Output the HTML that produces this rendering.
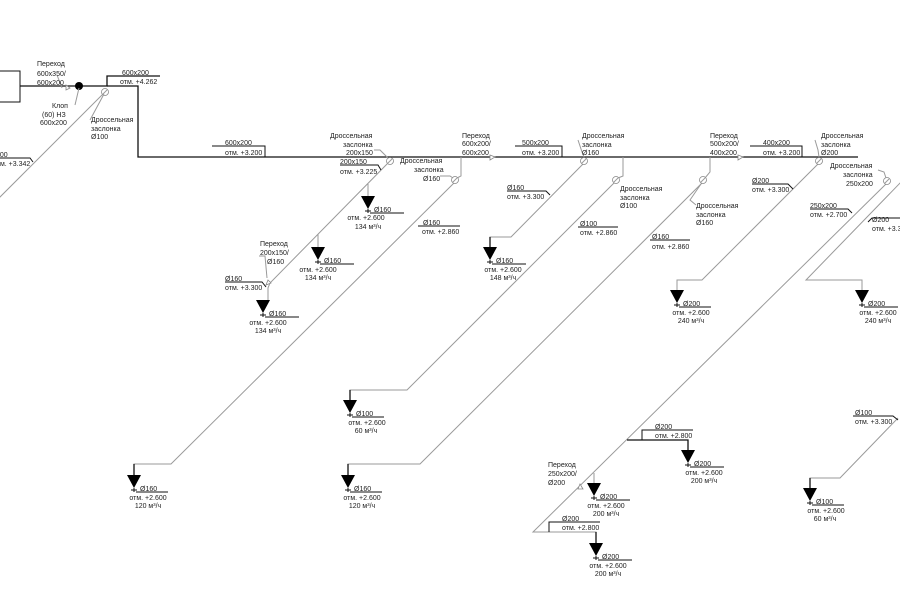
<!DOCTYPE html>
<html><head><meta charset="utf-8"><style>
html,body{margin:0;padding:0;background:#fff;}
svg{display:block;}
text{font-family:"Liberation Sans",sans-serif;font-size:7px;fill:#222;}
.g{stroke:#9a9a9a;stroke-width:1;fill:none;}
.b{stroke:#111;stroke-width:1.3;fill:none;}
.u{stroke:#111;stroke-width:1;fill:none;}
.v{stroke:#888;stroke-width:0.8;fill:#fff;}
</style></head><body>
<svg width="900" height="600" viewBox="0 0 900 600" xmlns="http://www.w3.org/2000/svg">
<defs>
<g id="tri"><polygon points="-7,0 7,0 0,13" fill="#000"/><line x1="0" y1="13" x2="0" y2="17" class="u"/><line x1="-3" y1="15" x2="3" y2="15" class="u"/></g>
</defs>

<!-- top-left unit -->
<rect x="-5" y="71" width="25" height="31" class="u"/>
<polyline points="20,86 107,86 107,76 160,76" class="b"/>
<polyline points="107,86 138,86 138,157 858,157" class="b"/>
<circle cx="79" cy="86" r="4" fill="#000"/>
<polygon points="66,85 70,88 66,90" class="v"/>
<line x1="105" y1="92" x2="-2" y2="199" class="g"/>
<circle cx="105" cy="92" r="3.5" class="v"/><line x1="103" y1="94" x2="107" y2="90" class="g"/>
<polyline points="62,88 57,75" class="g"/>
<polyline points="75,105 79,88" class="g"/>
<polyline points="90,120 104,94" class="g"/>
<text x="37" y="66">Переход</text><text x="37" y="76">600x350/</text><text x="37" y="85">600x200</text>
<text x="52" y="108">Клоп</text><text x="42" y="117">(60) НЗ</text><text x="40" y="125">600x200</text>
<text x="122" y="75">600x200</text><text x="120" y="84">отм. +4.262</text>
<text x="91" y="122">Дроссельная</text><text x="91" y="131">заслонка</text><text x="91" y="139">Ø100</text>
<polyline points="-5,158 30,158 33,162" class="u"/>
<text x="-4" y="157">200</text><text x="-7" y="166">отм. +3.342</text>

<!-- main labels -->
<polyline points="212,146 265,146 265,157" class="u"/>
<text x="225" y="145">600x200</text><text x="225" y="155">отм. +3.200</text>
<polyline points="515,146 562,146 562,157" class="u"/>
<text x="522" y="145">500x200</text><text x="522" y="155">отм. +3.200</text>
<polyline points="750,146 802,146 802,157" class="u"/>
<text x="763" y="145">400x200</text><text x="763" y="155">отм. +3.200</text>
<polygon points="490,155 495,157 490,160" class="v"/>
<text x="462" y="138">Переход</text><text x="462" y="146">600x200/</text><text x="462" y="155">600x200</text>
<polygon points="738,155 743,157 738,160" class="v"/>
<text x="710" y="138">Переход</text><text x="710" y="146">500x200/</text><text x="710" y="155">400x200</text>

<!-- branch 200x150 -->
<polyline points="390,161 270,283 268,288 268,300" class="g"/>
<line x1="368" y1="184" x2="368" y2="196" class="g"/>
<line x1="318" y1="234" x2="318" y2="247" class="g"/>
<circle cx="390" cy="161" r="3.5" class="v"/><line x1="388" y1="163" x2="392" y2="159" class="g"/>
<polyline points="374,150 380,150 388,158" class="g"/>
<text x="330" y="138">Дроссельная</text><text x="343" y="147">заслонка</text><text x="346" y="155">200x150</text>
<polyline points="340,165 378,165 381,170" class="u"/>
<text x="340" y="164">200x150</text><text x="340" y="174">отм. +3.225</text>
<polygon points="268,280 271,283 266,285" class="v"/>
<polyline points="259,256 265,256 267,278" class="g"/>
<text x="260" y="246">Переход</text><text x="260" y="255">200x150/</text><text x="267" y="264">Ø160</text>
<polyline points="225,282 262,282 266,287" class="u"/>
<text x="225" y="281">Ø160</text><text x="225" y="290">отм. +3.300</text>

<!-- branch Ø160 valve at 455 -->
<polyline points="461,157 461,176 457,178" class="g"/>
<polyline points="455,182 171,464 134,464 134,475" class="g"/>
<line x1="134" y1="464" x2="134" y2="475" class="b"/>
<circle cx="455" cy="180" r="3.5" class="v"/><line x1="453" y1="182" x2="457" y2="178" class="g"/>
<polyline points="440,176 450,176 453,178" class="g"/>
<text x="400" y="163">Дроссельная</text><text x="414" y="172">заслонка</text><text x="423" y="181">Ø160</text>
<polyline points="418,226 460,226" class="u"/>
<text x="423" y="225">Ø160</text><text x="422" y="234">отм. +2.860</text>

<!-- branch valve 584 -->
<polyline points="584,163 511,237 490,237 490,247" class="g"/>
<line x1="490" y1="237" x2="490" y2="247" class="b"/>
<circle cx="584" cy="161" r="3.5" class="v"/><line x1="582" y1="163" x2="586" y2="159" class="g"/>
<polyline points="578,140 582,152 584,157" class="g"/>
<text x="582" y="138">Дроссельная</text><text x="582" y="147">заслонка</text><text x="582" y="155">Ø160</text>
<polyline points="507,191 546,191 550,195" class="u"/>
<text x="507" y="190">Ø160</text><text x="507" y="199">отм. +3.300</text>

<!-- branch valve 616 -->
<polyline points="623,157 623,176 618,178" class="g"/>
<polyline points="615,182 407,390 350,390 350,400" class="g"/>
<line x1="350" y1="390" x2="350" y2="400" class="b"/>
<circle cx="616" cy="180" r="3.5" class="v"/><line x1="614" y1="182" x2="618" y2="178" class="g"/>
<text x="620" y="191">Дроссельная</text><text x="620" y="200">заслонка</text><text x="620" y="208">Ø100</text>
<polyline points="578,227 618,227" class="u"/>
<text x="580" y="226">Ø100</text><text x="580" y="235">отм. +2.860</text>

<!-- branch valve 703 -->
<polyline points="710,157 710,172 705,178" class="g"/>
<polyline points="703,182 420,464 348,464 348,475" class="g"/>
<line x1="348" y1="464" x2="348" y2="475" class="b"/>
<circle cx="703" cy="180" r="3.5" class="v"/><line x1="701" y1="182" x2="705" y2="178" class="g"/>
<polyline points="696,205 690,200 701,184" class="g"/>
<text x="696" y="208">Дроссельная</text><text x="696" y="217">заслонка</text><text x="696" y="225">Ø160</text>
<polyline points="650,240 690,240" class="u"/>
<text x="652" y="239">Ø160</text><text x="652" y="249">отм. +2.860</text>

<!-- branch valve 820 -->
<polyline points="819,163 702,280 677,280 677,290" class="g"/>
<circle cx="819" cy="161" r="3.5" class="v"/><line x1="817" y1="163" x2="821" y2="159" class="g"/>
<polyline points="815,140 818,150 819,157" class="g"/>
<text x="821" y="138">Дроссельная</text><text x="821" y="147">заслонка</text><text x="821" y="155">Ø200</text>
<polyline points="752,184 788,184 793,189" class="u"/>
<text x="752" y="183">Ø200</text><text x="752" y="192">отм. +3.300</text>

<!-- long branch valve 887 -->
<polyline points="887,183 533,532 596,532 596,543" class="g"/>
<line x1="596" y1="532" x2="596" y2="543" class="b"/>
<circle cx="887" cy="181" r="3.5" class="v"/><line x1="885" y1="183" x2="889" y2="179" class="g"/>
<polyline points="878,170 884,172 886,178" class="g"/>
<text x="830" y="168">Дроссельная</text><text x="843" y="177">заслонка</text><text x="846" y="186">250x200</text>
<polyline points="810,209 848,209 852,213" class="u"/>
<text x="810" y="208">250x200</text><text x="810" y="217">отм. +2.700</text>
<polyline points="627,440 688,440 688,450" class="b"/>
<polyline points="642,440 642,430 693,430" class="u"/>
<text x="655" y="429">Ø200</text><text x="655" y="438">отм. +2.800</text>
<polyline points="549,532 549,522 600,522" class="u"/>
<text x="562" y="521">Ø200</text><text x="562" y="530">отм. +2.800</text>
<line x1="594" y1="473" x2="594" y2="483" class="g"/>
<polygon points="580,484 583,489 578,489" class="v"/>
<text x="548" y="467">Переход</text><text x="548" y="476">250x200/</text><text x="548" y="485">Ø200</text>

<!-- right branch -->
<polyline points="902,181 806,280 862,280 862,290" class="g"/>
<polyline points="868,222 872,218 905,218" class="u"/>
<text x="872" y="222">Ø200</text><text x="872" y="231">отм. +3.300</text>

<!-- bottom right branch -->
<polyline points="898,418 840,478 810,478 810,488" class="g"/>
<line x1="810" y1="478" x2="810" y2="488" class="b"/>
<polyline points="853,416 893,416 898,420" class="u"/>
<text x="855" y="415">Ø100</text><text x="855" y="424">отм. +3.300</text>

<!-- terminals -->
<g transform="translate(368,196)"><use href="#tri"/><line x1="2" y1="17" x2="36" y2="17" class="u"/><text x="6" y="16">Ø160</text><text x="-2" y="24" text-anchor="middle" x-dummy="">отм. +2.600</text><text x="0" y="33" text-anchor="middle">134 м³/ч</text></g>
<g transform="translate(318,247)"><use href="#tri"/><line x1="2" y1="17" x2="36" y2="17" class="u"/><text x="6" y="16">Ø160</text><text x="0" y="25" text-anchor="middle">отм. +2.600</text><text x="0" y="33" text-anchor="middle">134 м³/ч</text></g>
<g transform="translate(263,300)"><use href="#tri"/><line x1="2" y1="17" x2="36" y2="17" class="u"/><text x="6" y="16">Ø160</text><text x="5" y="25" text-anchor="middle">отм. +2.600</text><text x="5" y="33" text-anchor="middle">134 м³/ч</text></g>
<g transform="translate(490,247)"><use href="#tri"/><line x1="2" y1="17" x2="36" y2="17" class="u"/><text x="6" y="16">Ø160</text><text x="13" y="25" text-anchor="middle">отм. +2.600</text><text x="13" y="33" text-anchor="middle">148 м³/ч</text></g>
<g transform="translate(350,400)"><use href="#tri"/><line x1="2" y1="17" x2="34" y2="17" class="u"/><text x="6" y="16">Ø100</text><text x="17" y="25" text-anchor="middle">отм. +2.600</text><text x="16" y="33" text-anchor="middle">60 м³/ч</text></g>
<g transform="translate(134,475)"><use href="#tri"/><line x1="2" y1="17" x2="34" y2="17" class="u"/><text x="6" y="16">Ø160</text><text x="14" y="25" text-anchor="middle">отм. +2.600</text><text x="14" y="33" text-anchor="middle">120 м³/ч</text></g>
<g transform="translate(348,475)"><use href="#tri"/><line x1="2" y1="17" x2="34" y2="17" class="u"/><text x="6" y="16">Ø160</text><text x="14" y="25" text-anchor="middle">отм. +2.600</text><text x="14" y="33" text-anchor="middle">120 м³/ч</text></g>
<g transform="translate(677,290)"><use href="#tri"/><line x1="2" y1="17" x2="34" y2="17" class="u"/><text x="6" y="16">Ø200</text><text x="14" y="25" text-anchor="middle">отм. +2.600</text><text x="14" y="33" text-anchor="middle">240 м³/ч</text></g>
<g transform="translate(862,290)"><use href="#tri"/><line x1="2" y1="17" x2="36" y2="17" class="u"/><text x="6" y="16">Ø200</text><text x="16" y="25" text-anchor="middle">отм. +2.600</text><text x="16" y="33" text-anchor="middle">240 м³/ч</text></g>
<g transform="translate(688,450)"><use href="#tri"/><line x1="2" y1="17" x2="36" y2="17" class="u"/><text x="6" y="16">Ø200</text><text x="16" y="25" text-anchor="middle">отм. +2.600</text><text x="16" y="33" text-anchor="middle">200 м³/ч</text></g>
<g transform="translate(594,483)"><use href="#tri"/><line x1="2" y1="17" x2="36" y2="17" class="u"/><text x="6" y="16">Ø200</text><text x="12" y="25" text-anchor="middle">отм. +2.600</text><text x="12" y="33" text-anchor="middle">200 м³/ч</text></g>
<g transform="translate(596,543)"><use href="#tri"/><line x1="2" y1="17" x2="36" y2="17" class="u"/><text x="6" y="16">Ø200</text><text x="12" y="25" text-anchor="middle">отм. +2.600</text><text x="12" y="33" text-anchor="middle">200 м³/ч</text></g>
<g transform="translate(810,488)"><use href="#tri"/><line x1="2" y1="17" x2="34" y2="17" class="u"/><text x="6" y="16">Ø100</text><text x="16" y="25" text-anchor="middle">отм. +2.600</text><text x="15" y="33" text-anchor="middle">60 м³/ч</text></g>
</svg>
</body></html>
